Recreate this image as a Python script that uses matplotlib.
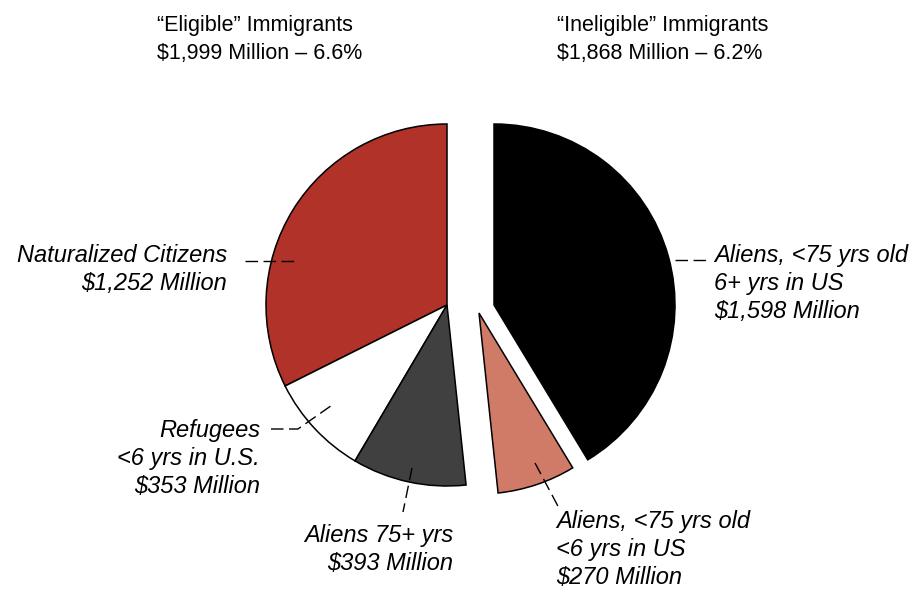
import matplotlib.pyplot as plt

# Spending by immigrant group, $ millions
eligible_groups = ["Naturalized Citizens", "Refugees <6 yrs in U.S.", "Aliens 75+ yrs"]
eligible_values = [1252, 353, 393]
ineligible_groups = ["Aliens, <75 yrs old <6 yrs in US", "Aliens, <75 yrs old 6+ yrs in US"]
ineligible_values = [270, 1598]

eligible_colors = ["#b03228", "white", "#404040"]
ineligible_colors = ["#d07a68", "black"]

titles = [
    ["\u201cEligible\u201d Immigrants", "$1,999 Million \u2013 6.6%"],
    ["\u201cIneligible\u201d Immigrants", "$1,868 Million \u2013 6.2%"],
]

W, H = 921, 595
R = 181
total = sum(eligible_values) + sum(ineligible_values)
wedge_style = dict(edgecolor="black", linewidth=1.1)

fig = plt.figure(figsize=(W / 100, H / 100), dpi=100)
ax = fig.add_axes([0, 0, 1, 1])

# y axis runs downward, so angles go clockwise in data space
start = -90
ax.pie([v / total for v in eligible_values], colors=eligible_colors,
       normalize=False, startangle=start, counterclock=False,
       radius=R, center=(447, 305), wedgeprops=wedge_style)
start -= 360 * sum(eligible_values) / total

# the small wedge is pulled away from the rest
ax.pie([ineligible_values[0] / total], colors=ineligible_colors[:1],
       normalize=False, startangle=start, counterclock=False,
       radius=R, center=(479, 313), wedgeprops=wedge_style)
start -= 360 * ineligible_values[0] / total
ax.pie([ineligible_values[1] / total], colors=ineligible_colors[1:],
       normalize=False, startangle=start, counterclock=False,
       radius=R, center=(494, 305), wedgeprops=wedge_style)

ax.set_xlim(0, W)
ax.set_ylim(H, 0)
ax.set_aspect("equal")
ax.axis("off")


def write(lines, x, y, ha="left", italic=True, size=17):
    for i, line in enumerate(lines):
        ax.text(x, y + 28 * i, line, ha=ha, va="baseline", fontsize=size,
                family="Liberation Sans",
                style="italic" if italic else "normal")


def leader(xs, ys):
    ax.plot(xs, ys, color="black", lw=1.0, linestyle=(0, (9, 4)))


write(titles[0], 157, 31, italic=False, size=15.5)
write(titles[1], 557, 31, italic=False, size=15.5)

write(["Naturalized Citizens", "$1,252 Million"], 227, 262, ha="right")
leader([245, 295], [261, 261])

write(["Refugees", "<6 yrs in U.S.", "$353 Million"], 260, 437, ha="right")
leader([271, 298, 335], [429, 429, 403])

write(["Aliens 75+ yrs", "$393 Million"], 453, 542, ha="right")
leader([412, 403], [468, 512])

write(["Aliens, <75 yrs old", "<6 yrs in US", "$270 Million"], 556, 528)
leader([535, 560], [463, 510])

write(["Aliens, <75 yrs old", "6+ yrs in US", "$1,598 Million"], 714, 262)
leader([675, 706], [260, 260])

fig.savefig("out.png", dpi=100)
